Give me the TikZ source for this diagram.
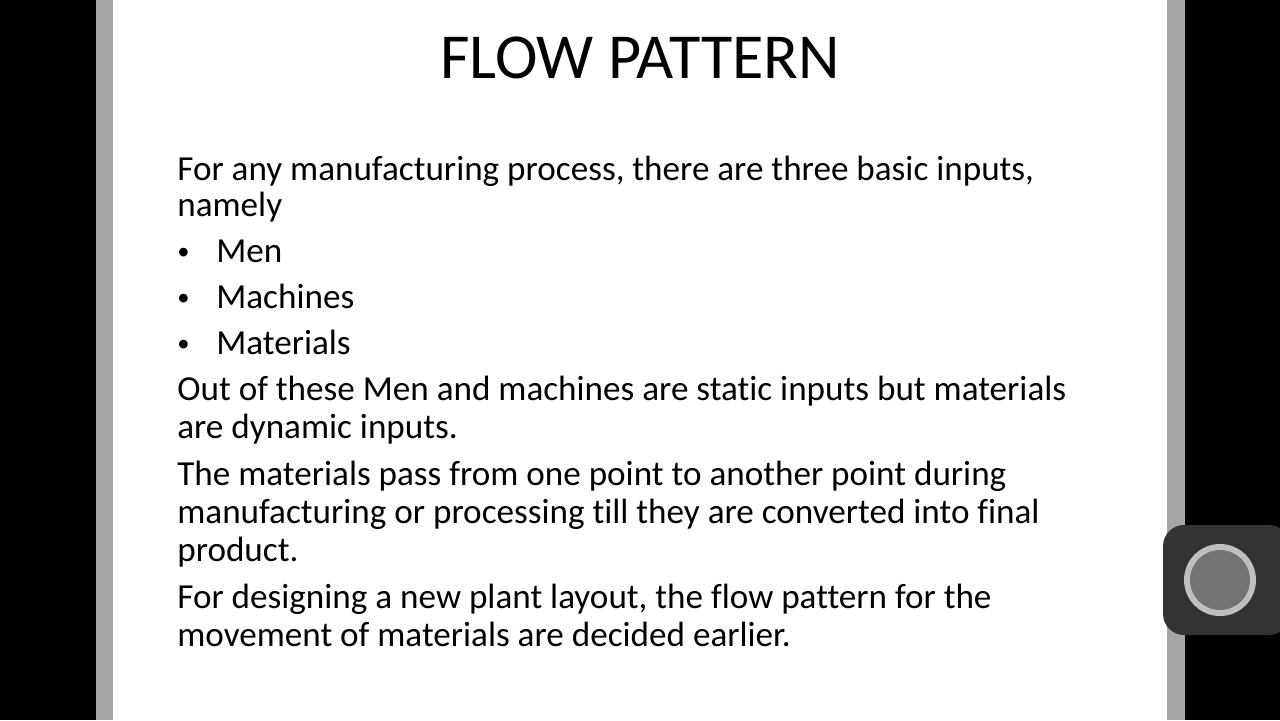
\documentclass[tikz,border=0pt]{standalone}
\usepackage{fontspec}
\setmainfont[Ligatures={NoCommon}]{Carlito}
\tikzset{
  body/.style={anchor=base west, inner sep=0pt, font=\fontsize{20}{21}\selectfont},
  bullet/.style={anchor=base west, inner sep=0pt, font=\fontsize{14}{15}\selectfont}
}
\begin{document}
\begin{tikzpicture}[x=0.02cm, y=-0.02cm]
\useasboundingbox (0,0) rectangle (1280,720);
% screen and slide
\fill[black] (0,0) rectangle (1280,720);
\fill[black!35] (96,0) rectangle (113,720);
\fill[white] (113,0) rectangle (1167,720);
\fill[black!35] (1167,0) rectangle (1185,720);
% button
\fill[black!80, rounded corners=12] (1163,525) rectangle (1290,635);
\fill[black!25] (1220,580) circle (36);
\fill[black!55] (1220,580) circle (30);
% title
\node[anchor=base, inner sep=0pt, font=\fontsize{36.5}{37}\selectfont] (title) at (640,78) {FLOW PATTERN};
% text lines
\node[body] (l1) at (177,180) {For any manufacturing process, there are three basic inputs,};
\node[body] (l2) at (177,216) {namely};
\foreach \y/\t [count=\i] in {262/Men, 308/Machines, 354/Materials} {
  \node[bullet] (b\i) at (177,\y-3) {\textbullet};
  \node[body] (m\i) at (216,\y) {\t};
}
\node[body] (l3) at (177,400) {Out of these Men and machines are static inputs but materials};
\node[body] (l4) at (177,438) {are dynamic inputs.};
\node[body] (l5) at (177,485) {The materials pass from one point to another point during};
\node[body] (l6) at (177,523) {manufacturing or processing till they are converted into final};
\node[body] (l7) at (177,561) {product.};
\node[body] (l8) at (177,608) {For designing a new plant layout, the flow pattern for the};
\node[body] (l9) at (177,646) {movement of materials are decided earlier.};
\end{tikzpicture}
\end{document}
